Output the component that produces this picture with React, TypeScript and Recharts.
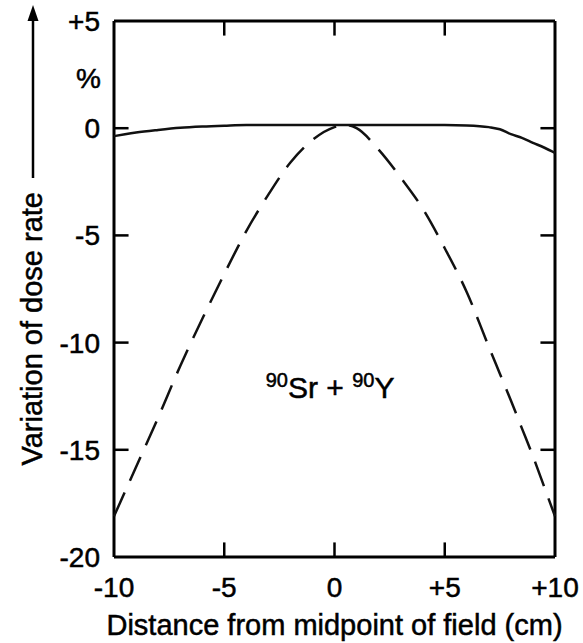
import { LineChart, Line, XAxis, YAxis, ReferenceDot, ReferenceLine, CartesianGrid, Label } from "recharts"

// distance from field midpoint (cm)
const distance = [-10, -9.5, -9, -8, -7, -6, -5, -4, -3, -2, -1, 0, 0.5, 1, 2, 3, 4, 5, 6, 7, 7.5, 8, 8.5, 9, 9.5, 10]
// solid curve, variation of dose rate (%)
const solidCurve = [-0.37, -0.28, -0.2, -0.08, 0.02, 0.08, 0.12, 0.15, 0.15, 0.15, 0.15, 0.15, 0.15, 0.15, 0.15, 0.15, 0.15, 0.15, 0.13, 0.05, -0.05, -0.28, -0.45, -0.68, -0.9, -1.15]
// dashed curve
const dashedCurve = [-18.1, -16.95, -15.8, -13.5, -11.1, -8.9, -6.8, -4.8, -3.1, -1.6, -0.55, 0.05, 0.15, 0.0, -1.0, -2.3, -3.75, -5.6, -7.65, -10.2, -11.45, -12.7, -14.0, -15.3, -16.7, -18.1]

const xTicks = [-10, -5, 0, 5, 10]
const yTicks = [-20, -15, -10, -5, 0, 5]

const data = distance.map((x, i) => ({ x, solid: solidCurve[i], dashed: dashedCurve[i] }))

const [xMin, xMax] = [xTicks[0], xTicks[xTicks.length - 1]]
const [yMin, yMax] = [yTicks[0], yTicks[yTicks.length - 1]]
const xInner = xTicks.slice(1, -1)
const yInner = yTicks.slice(1, -1)
// inward tick length, in axis units (~14px)
const xTickLen = 0.66
const yTickLen = 0.68

const signed = (v: number) => (v > 0 ? `+${v}` : `${v}`)
const ink = { fill: "#000", stroke: "#000", strokeWidth: 0.5 }

function LeftTick({ x, y, payload }: any) {
  return <text x={x} y={y} dy="0.355em" textAnchor="end" fontSize={28} {...ink}>{signed(payload.value)}</text>
}

function BottomTick({ x, y, payload }: any) {
  return <text x={x} y={y} dy="0.71em" textAnchor="middle" fontSize={28} {...ink}>{signed(payload.value)}</text>
}

function YTitle() {
  return (
    <g>
      <line x1={33} y1={18} x2={33} y2={178} stroke="#000" strokeWidth={2.5} />
      <polygon points="33,5 27.5,21 38.5,21" fill="#000" />
      <text x={42} y={192} textAnchor="end" fontSize={29} {...ink} transform="rotate(-90, 42, 192)">
        Variation of dose rate
      </text>
    </g>
  )
}

const tickSeg = { stroke: "#000", strokeWidth: 2.5, ifOverflow: "visible" as const }

export default function App() {
  return (
    <div style={{ position: "absolute", left: 0, top: 0, background: "#fff", fontFamily: "'Liberation Sans', Arial, sans-serif" }}>
      <LineChart width={583} height={643} data={data} margin={{ top: 21, right: 28, bottom: 0, left: 0 }}>
        {/* frame around the plot */}
        <CartesianGrid stroke="#000" strokeWidth={3} horizontalValues={[yMin, yMax]} verticalValues={[xMin, xMax]} />
        <XAxis dataKey="x" type="number" domain={[xMin, xMax]} ticks={xTicks} interval={0}
          axisLine={false} tickLine={false} tick={<BottomTick />} tickSize={0} tickMargin={20} height={86}>
          <Label value="Distance from midpoint of field (cm)" position="insideBottom" offset={8}
            fontSize={29} fill="#000" stroke="#000" strokeWidth={0.5} />
        </XAxis>
        <YAxis type="number" domain={[yMin, yMax]} ticks={yTicks} interval={0}
          axisLine={false} tickLine={false} tick={<LeftTick />} tickSize={0} tickMargin={14} width={114}>
          <Label content={<YTitle />} />
        </YAxis>

        {/* inward ticks on all four sides */}
        {xInner.map((v) => (
          <ReferenceLine key={`b${v}`} segment={[{ x: v, y: yMin }, { x: v, y: yMin + yTickLen }]} {...tickSeg} />
        ))}
        {xInner.map((v) => (
          <ReferenceLine key={`t${v}`} segment={[{ x: v, y: yMax }, { x: v, y: yMax - yTickLen }]} {...tickSeg} />
        ))}
        {yInner.map((v) => (
          <ReferenceLine key={`l${v}`} segment={[{ x: xMin, y: v }, { x: xMin + xTickLen, y: v }]} {...tickSeg} />
        ))}
        {yInner.map((v) => (
          <ReferenceLine key={`r${v}`} segment={[{ x: xMax, y: v }, { x: xMax - xTickLen, y: v }]} {...tickSeg} />
        ))}

        <Line dataKey="solid" type="monotone" stroke="#111" strokeWidth={2.5} dot={false} isAnimationActive={false} />
        <Line dataKey="dashed" type="monotone" stroke="#111" strokeWidth={2.5} strokeDasharray="26 13"
          dot={false} isAnimationActive={false} />
        <ReferenceDot x={xMin} y={2.35} r={0} ifOverflow="visible"
          shape={(p: any) => (
            <text x={p.cx - 13} y={p.cy} dy="0.355em" textAnchor="end" fontSize={28} {...ink}>%</text>
          )} />
        <ReferenceDot x={-0.2} y={-12.6} r={0}
          shape={(p: any) => (
            <text x={p.cx} y={p.cy} textAnchor="middle" fontSize={30} {...ink}>
              <tspan fontSize={20} dy={-11}>90</tspan>
              <tspan dy={11}>Sr + </tspan>
              <tspan fontSize={20} dy={-11}>90</tspan>
              <tspan dy={11}>Y</tspan>
            </text>
          )} />
      </LineChart>
    </div>
  )
}
